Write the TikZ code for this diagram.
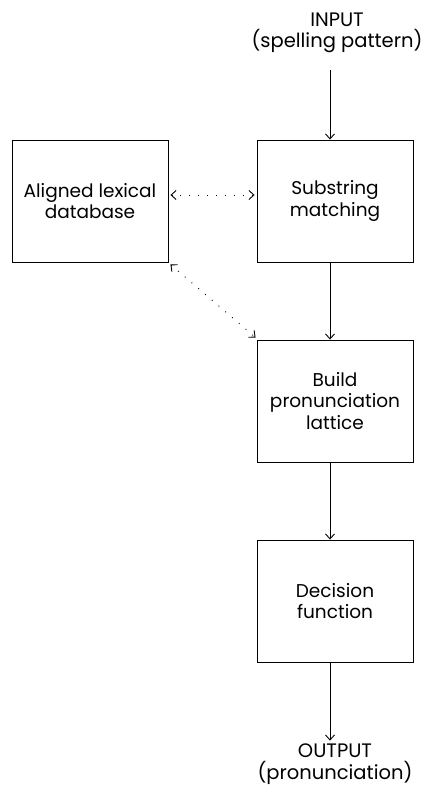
\documentclass[tikz,border=0pt]{standalone}
\usepackage{fontspec}
\setmainfont{Poppins}
\usetikzlibrary{arrows.meta}
\begin{document}
\begin{tikzpicture}[x=1pt,y=1pt,
  box/.style={draw,line width=0.9pt,minimum width=156pt,minimum height=122pt,align=center,inner sep=0pt,font=\fontsize{18.5}{21.5}\selectfont},
  lbl/.style={align=center,inner sep=0pt,font=\fontsize{19.5}{21.5}\selectfont},
  arr/.style={line width=0.9pt,-{Straight Barb[length=5pt,width=9pt]}},
  dotarr/.style={line width=0.9pt,dash pattern=on 0.9pt off 8pt,{Straight Barb[length=5pt,width=9pt]}-{Straight Barb[length=5pt,width=9pt]}}]
\useasboundingbox (0,0) rectangle (428,-791);
\node[lbl] (inp) at (337,-33) {INPUT\\(spelling pattern)};
\coordinate (inpend) at (330,-70);
\node[box] (db) at (90,-201) {Aligned lexical\\database};
\node[box] (sub) at (335,-201) {Substring\\matching};
\node[box] (bld) at (335,-401) {Build\\pronunciation\\lattice};
\node[box] (dec) at (335,-601) {Decision\\function};
\node[lbl] (out) at (335,-764) {OUTPUT\\(pronunciation)};
\draw[arr] (inpend) -- ([xshift=-5pt]sub.north);
\draw[arr] ([xshift=-5pt]sub.south) -- ([xshift=-5pt]bld.north);
\draw[arr] ([xshift=-5pt]bld.south) -- ([xshift=-5pt]dec.north);
\draw[arr] ([xshift=-5pt]dec.south) -- ([xshift=-5pt,yshift=3pt]out.north);
\draw[dotarr] ([xshift=2pt,yshift=6pt]db.east) -- ([xshift=-2pt,yshift=6pt]sub.west);
\draw[dotarr] ([xshift=2pt,yshift=-2pt]db.south east) -- ([xshift=-1pt,yshift=2pt]bld.north west);
\end{tikzpicture}
\end{document}
